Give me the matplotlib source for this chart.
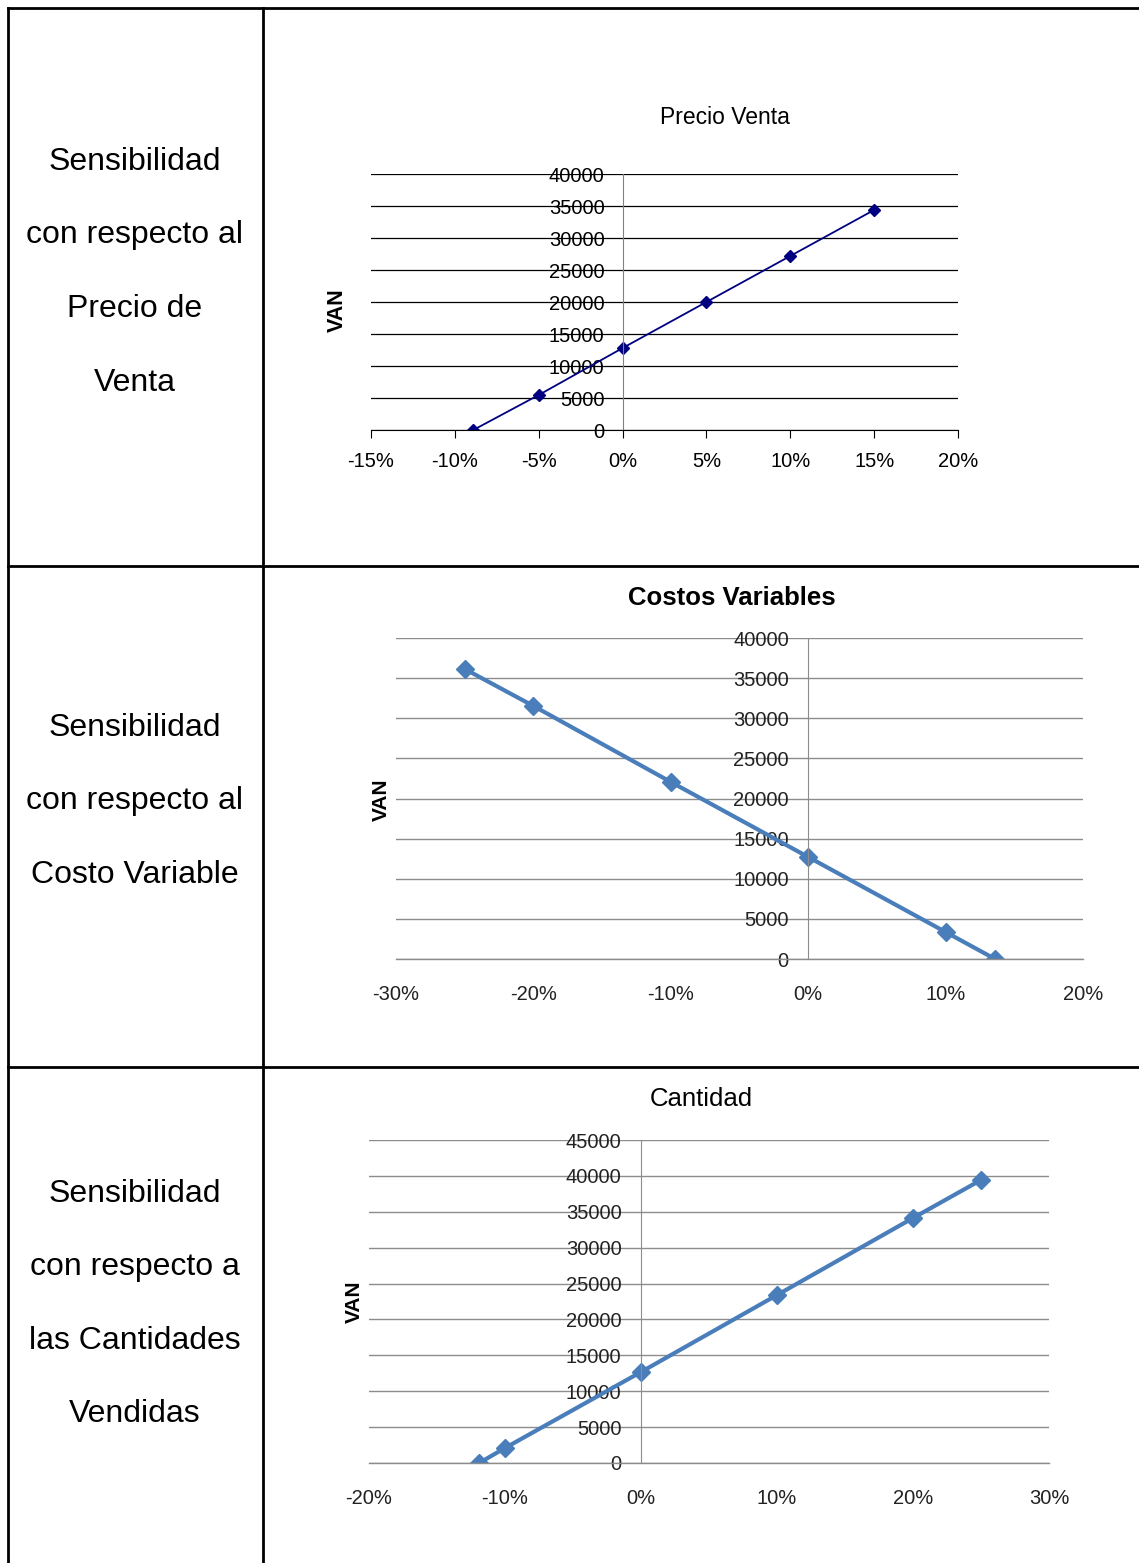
import matplotlib
matplotlib.use("Agg")
import matplotlib.pyplot as plt
from matplotlib.lines import Line2D
from matplotlib.ticker import FuncFormatter

plt.rcParams['font.family'] = ['Liberation Sans', 'DejaVu Sans']

W, H = 1139, 1563

# Datos (variacion en %, VAN)
precio_x = [-8.9, -5, 0, 5, 10, 15]
precio_van = [0, 5470, 12800, 20000, 27190, 34380]

costo_x = [-25, -20, -10, 0, 10, 13.6]
costo_van = [36140, 31530, 22060, 12710, 3360, 0]

cantidad_x = [-11.9, -10, 0, 10, 20, 25]
cantidad_van = [0, 2090, 12680, 23400, 34130, 39430]

row_labels = [
    ["Sensibilidad", "con respecto al", "Precio de", "Venta"],
    ["Sensibilidad", "con respecto al", "Costo Variable"],
    ["Sensibilidad", "con respecto a", "las Cantidades", "Vendidas"],
]
row_text_y = [[162, 235, 309, 383], [728, 801, 875], [1194, 1267, 1341, 1414]]

fig = plt.figure(figsize=(W / 100, H / 100), dpi=100)


def fx(px):
    return px / W


def fy(py):
    return 1 - py / H


# tabla
lw = 2
for x in [8, 263]:
    fig.add_artist(Line2D([fx(x), fx(x)], [fy(8), fy(H)], color='black', lw=lw))
for y in [8, 566, 1067]:
    fig.add_artist(Line2D([fx(8), fx(W)], [fy(y), fy(y)], color='black', lw=lw))

for lines, ys in zip(row_labels, row_text_y):
    for t, y in zip(lines, ys):
        fig.text(fx(135), fy(y), t, ha='center', va='center', fontsize=23)


def make_ax(left, right, top, bottom):
    return fig.add_axes([fx(left), fy(bottom), fx(right - left), (bottom - top) / H])


pct = FuncFormatter(lambda v, p: f"{v:.0f}%")

# --- Precio Venta (estilo Excel 2003)
ax1 = make_ax(371, 958, 174, 430)
ax1.plot(precio_x, precio_van, color='#000080', lw=1.3, marker='D', ms=6)
ax1.set_xlim(-15, 20)
ax1.set_ylim(0, 40000)
ax1.set_xticks(range(-15, 21, 5))
ax1.set_yticks(range(0, 40001, 5000))
ax1.xaxis.set_major_formatter(pct)
ax1.grid(axis='y', color='black', lw=0.9)
ax1.set_axisbelow(True)
for s in ['top', 'right']:
    ax1.spines[s].set_visible(False)
ax1.spines['left'].set_position(('data', 0))
ax1.spines['left'].set_color('#808080')
ax1.spines['bottom'].set_color('black')
ax1.tick_params(axis='y', length=0, labelsize=14.5, pad=13)
ax1.tick_params(axis='x', length=6, direction='out', labelsize=14.5, pad=10)
fig.text(fx(725), fy(117), "Precio Venta", ha='center', va='center', fontsize=16.5)
fig.text(fx(337), fy(310), "VAN", rotation=90, ha='center', va='center',
         fontsize=15.5, fontweight='bold')


def style_2007(ax, xlim, ylim, ystep):
    ax.set_xlim(*xlim)
    ax.set_ylim(*ylim)
    ax.set_xticks(range(xlim[0], xlim[1] + 1, 10))
    ax.set_yticks(range(ylim[0], ylim[1] + 1, ystep))
    ax.xaxis.set_major_formatter(pct)
    ax.grid(axis='y', color='#8c8c8c', lw=1.0)
    ax.set_axisbelow(True)
    for s in ['top', 'right']:
        ax.spines[s].set_visible(False)
    ax.spines['bottom'].set_color('#8c8c8c')
    ax.spines['bottom'].set_linewidth(1.0)
    ax.spines['left'].set_position(('data', 0))
    ax.spines['left'].set_color('#8c8c8c')
    ax.spines['left'].set_linewidth(0.8)
    ax.tick_params(axis='both', length=0, labelsize=14.5, colors='#222222')
    ax.tick_params(axis='y', pad=14)
    ax.tick_params(axis='x', pad=19)


# --- Costos Variables
ax2 = make_ax(396, 1083, 638, 959)
ax2.plot(costo_x, costo_van, color='#4A7EBB', lw=3, marker='D', ms=9)
style_2007(ax2, (-30, 20), (0, 40000), 5000)
fig.text(fx(732), fy(598), "Costos Variables", ha='center', va='center',
         fontsize=18.5, fontweight='bold')
fig.text(fx(381), fy(800), "VAN", rotation=90, ha='center', va='center',
         fontsize=15, fontweight='bold')

# --- Cantidad
ax3 = make_ax(369, 1049, 1140, 1463)
ax3.plot(cantidad_x, cantidad_van, color='#4A7EBB', lw=3, marker='D', ms=9)
style_2007(ax3, (-20, 30), (0, 45000), 5000)
fig.text(fx(701), fy(1099), "Cantidad", ha='center', va='center', fontsize=18.5)
fig.text(fx(354), fy(1302), "VAN", rotation=90, ha='center', va='center',
         fontsize=15, fontweight='bold')

fig.savefig("out.png", dpi=100)
